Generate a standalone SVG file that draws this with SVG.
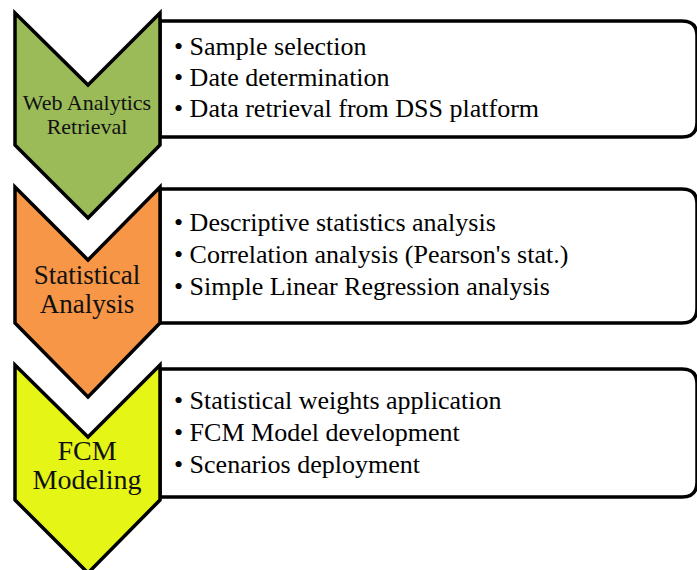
<svg xmlns="http://www.w3.org/2000/svg" width="697" height="570" viewBox="0 0 697 570">
<style>
.box{fill:#fff;stroke:#000;stroke-width:3.5}
.chev{stroke:#000;stroke-width:3.5;stroke-linejoin:miter}
text{font-family:'Liberation Serif','Times New Roman',serif}
.item{font-size:26px;fill:#000}
.lbl{fill:#111;text-anchor:middle}
</style>
<rect width="697" height="570" fill="#fff"/>
<g id="box1">
<path class="box" d="M160,21 H682 Q697,21 697,36 V122 Q697,137 682,137 H160 Z"/>
<text class="item" x="174" y="55">• Sample selection</text>
<text class="item" x="174" y="86">• Date determination</text>
<text class="item" x="174" y="117">• Data retrieval from DSS platform</text>
</g>
<g id="box2">
<path class="box" d="M160,189 H682 Q697,189 697,204 V308 Q697,323 682,323 H160 Z"/>
<text class="item" x="174" y="231">• Descriptive statistics analysis</text>
<text class="item" x="174" y="263">• Correlation analysis (Pearson's stat.)</text>
<text class="item" x="174" y="295">• Simple Linear Regression analysis</text>
</g>
<g id="box3">
<path class="box" d="M160,369 H682 Q697,369 697,384 V482 Q697,497 682,497 H160 Z"/>
<text class="item" x="174" y="409">• Statistical weights application</text>
<text class="item" x="174" y="441">• FCM Model development</text>
<text class="item" x="174" y="473">• Scenarios deployment</text>
</g>
<g id="chevron1">
<path class="chev" fill="#9BBB59" d="M15,13 L88,85 L160,13 V145 L88,218 L15,145 Z"/>
<text class="lbl" x="87" y="110" font-size="22">Web Analytics</text>
<text class="lbl" x="87" y="134" font-size="22">Retrieval</text>
</g>
<g id="chevron2">
<path class="chev" fill="#F79646" d="M15,187 L88,260 L160,187 V323 L88,397 L15,323 Z"/>
<text class="lbl" x="87" y="284" font-size="27">Statistical</text>
<text class="lbl" x="87" y="313" font-size="27">Analysis</text>
</g>
<g id="chevron3">
<path class="chev" fill="#E5F515" d="M15,365 L88,437 L160,365 V500 L88,573 L15,500 Z"/>
<text class="lbl" x="87" y="460" font-size="28">FCM</text>
<text class="lbl" x="87" y="489" font-size="28">Modeling</text>
</g>
</svg>
